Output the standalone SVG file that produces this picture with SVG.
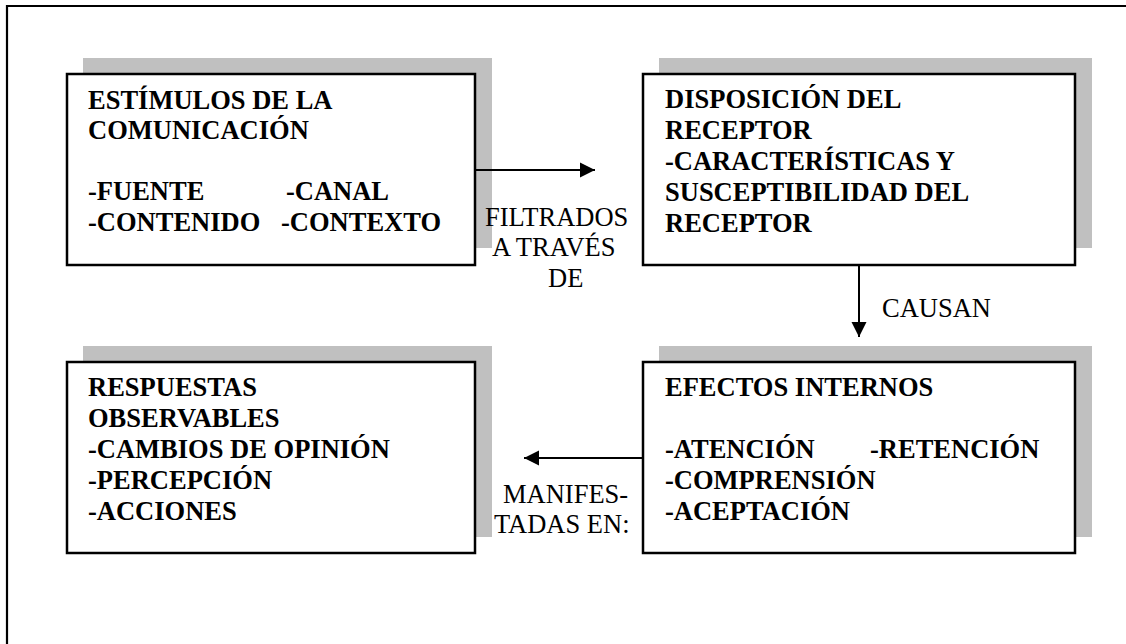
<svg xmlns="http://www.w3.org/2000/svg" width="1126" height="644" viewBox="0 0 1126 644">
  <style>
    .shadow { fill: #c0c0c0; }
    .box { fill: #ffffff; stroke: #000000; stroke-width: 2.5; }
    .hd { font-family: "Liberation Serif", "Times New Roman", serif; font-weight: bold; font-size: 26.5px; fill: #000; }
    .lb { font-family: "Liberation Serif", "Times New Roman", serif; font-size: 26.5px; fill: #000; }
    .edge { stroke: #000; stroke-width: 2; fill: none; marker-end: url(#arrow); }
  </style>
  <defs>
    <marker id="arrow" viewBox="0 0 16 16" refX="15" refY="8" markerWidth="16" markerHeight="16" markerUnits="userSpaceOnUse" orient="auto">
      <path d="M0,0.5 L15,8 L0,15.5 Z" fill="#000"/>
    </marker>
  </defs>
  <rect width="1126" height="644" fill="#ffffff"/>

  <!-- page frame -->
  <path d="M7,644 L7,6 L1126,6" fill="none" stroke="#000" stroke-width="2.2"/>

  <!-- stimuli -->
  <g id="estimulos">
    <rect class="shadow" x="83" y="58" width="409" height="190"/>
    <rect class="box" x="67" y="74" width="408" height="191"/>
    <text class="hd" x="88" y="109">ESTÍMULOS DE LA</text>
    <text class="hd" x="88" y="139">COMUNICACIÓN</text>
    <text class="hd" x="88" y="200">-FUENTE</text>
    <text class="hd" x="286" y="200">-CANAL</text>
    <text class="hd" x="88" y="231">-CONTENIDO</text>
    <text class="hd" x="281" y="231">-CONTEXTO</text>
  </g>

  <!-- receiver disposition -->
  <g id="disposicion">
    <rect class="shadow" x="659" y="58" width="433" height="190"/>
    <rect class="box" x="643" y="74" width="432" height="191"/>
    <text class="hd" x="665" y="108">DISPOSICIÓN DEL</text>
    <text class="hd" x="665" y="139">RECEPTOR</text>
    <text class="hd" x="665" y="170">-CARACTERÍSTICAS Y</text>
    <text class="hd" x="665" y="201">SUSCEPTIBILIDAD DEL</text>
    <text class="hd" x="665" y="232">RECEPTOR</text>
  </g>

  <!-- internal effects -->
  <g id="efectos">
    <rect class="shadow" x="659" y="346" width="433" height="191"/>
    <rect class="box" x="643" y="362" width="432" height="191"/>
    <text class="hd" x="665" y="396">EFECTOS INTERNOS</text>
    <text class="hd" x="665" y="458">-ATENCIÓN</text>
    <text class="hd" x="870" y="458">-RETENCIÓN</text>
    <text class="hd" x="665" y="489">-COMPRENSIÓN</text>
    <text class="hd" x="665" y="520">-ACEPTACIÓN</text>
  </g>

  <!-- observable responses -->
  <g id="respuestas">
    <rect class="shadow" x="83" y="346" width="409" height="191"/>
    <rect class="box" x="67" y="362" width="408" height="191"/>
    <text class="hd" x="88" y="396">RESPUESTAS</text>
    <text class="hd" x="88" y="427">OBSERVABLES</text>
    <text class="hd" x="88" y="458">-CAMBIOS DE OPINIÓN</text>
    <text class="hd" x="88" y="489">-PERCEPCIÓN</text>
    <text class="hd" x="88" y="520">-ACCIONES</text>
  </g>

  <!-- connectors -->
  <g id="connectors">
    <line class="edge" x1="476" y1="170" x2="595" y2="170"/>
    <line class="edge" x1="859" y1="265" x2="859" y2="337"/>
    <line class="edge" x1="643" y1="458" x2="524" y2="458"/>
    <text class="lb" x="485" y="226">FILTRADOS</text>
    <text class="lb" x="492" y="256">A TRAVÉS</text>
    <text class="lb" x="548" y="287">DE</text>
    <text class="lb" x="882" y="317">CAUSAN</text>
    <text class="lb" x="503" y="503">MANIFES-</text>
    <text class="lb" x="494" y="533">TADAS EN:</text>
  </g>
</svg>
